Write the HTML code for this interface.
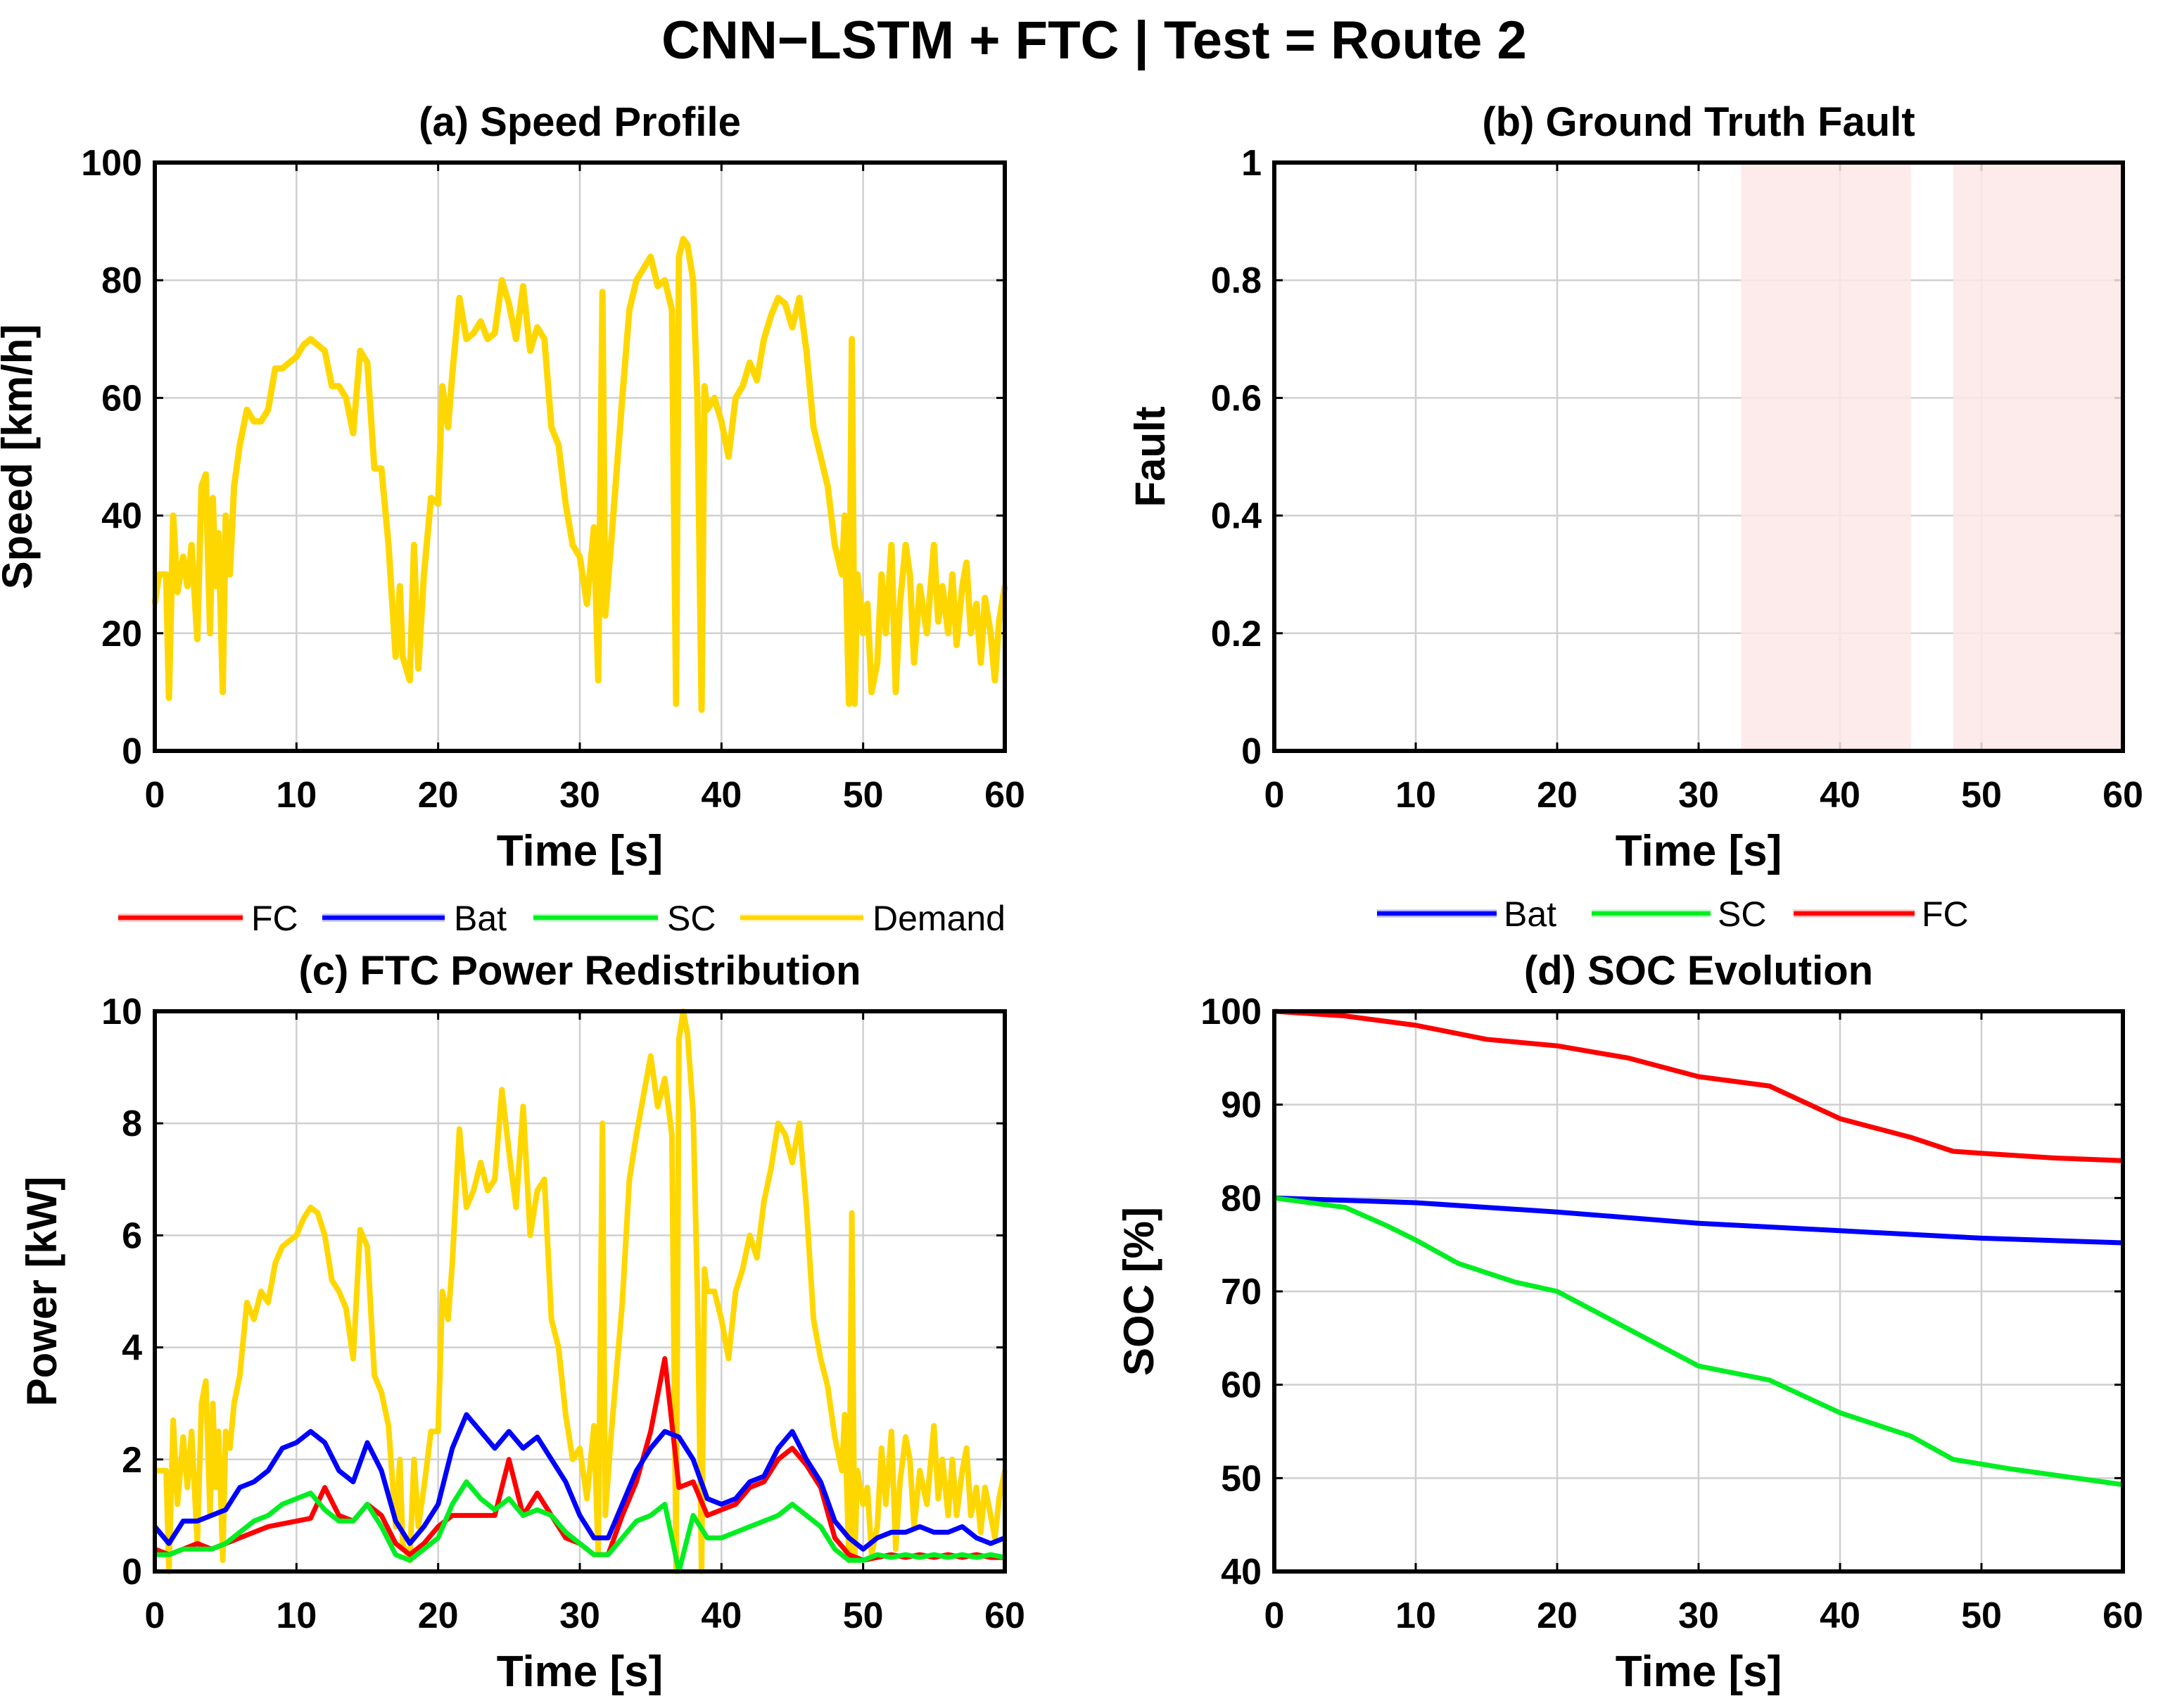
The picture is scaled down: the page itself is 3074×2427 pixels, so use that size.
<!DOCTYPE html>
<html><head><meta charset="utf-8">
<style>
html,body{margin:0;padding:0;background:#fff;}
svg{display:block;font-family:"Liberation Sans",Arial,sans-serif;font-weight:bold;}
</style></head>
<body>
<svg id="fig" width="3074" height="2427" viewBox="0 0 3074 2427" xmlns="http://www.w3.org/2000/svg">
<rect width="3074" height="2427" fill="#fff"/>
<text x="1555" y="83" font-size="76" text-anchor="middle">CNN−LSTM + FTC | Test = Route 2</text>
</svg>
<script>
// ---- data ----
const speedT=[0,0.3,0.8,1.0,1.3,1.6,2,2.3,2.6,3,3.3,3.6,3.9,4.1,4.3,4.5,4.8,5,5.3,5.6,6,6.5,7,7.5,8,8.5,9,10,10.5,11,11.5,12,12.5,13,13.5,14,14.5,15,15.5,16,16.5,17,17.3,17.5,18,18.3,18.6,19,19.5,20,20.3,20.7,21,21.5,22,22.5,23,23.5,24,24.5,25,25.5,26,26.5,27,27.5,28,28.5,29,29.5,30,30.5,31,31.3,31.6,31.8,32.2,33,33.5,34,34.5,35,35.5,36,36.5,36.8,37,37.3,37.6,38,38.3,38.6,38.8,39,39.5,40,40.5,41,41.5,42,42.5,43,43.5,44,44.5,45,45.5,46,46.5,47,47.5,48,48.5,48.7,49,49.2,49.4,49.6,50,50.3,50.6,51,51.3,51.6,52,52.3,52.6,53,53.3,53.6,54,54.5,55,55.3,55.6,56,56.3,56.6,57,57.3,57.6,58,58.3,58.6,59,59.3,59.6,60];
const speedV=[25,30,30,9,40,27,33,28,35,19,45,47,20,43,28,37,10,40,30,45,52,58,56,56,58,65,65,67,69,70,69,68,62,62,60,54,68,66,48,48,35,16,28,16,12,35,14,30,43,42,62,55,64,77,70,71,73,70,71,80,76,70,79,68,72,70,55,52,42,35,33,25,38,12,78,23,35,60,75,80,82,84,79,80,75,8,84,87,86,80,60,7,62,58,60,56,50,60,62,66,63,70,74,77,76,72,77,68,55,50,45,35,30,40,8,70,8,30,20,25,10,15,30,20,35,10,25,35,30,15,28,20,35,22,28,20,30,18,28,32,20,25,15,26,20,12,22,28];
const demandV=[1.8,1.8,1.8,0,2.7,1.2,2.4,1.5,2.5,0.5,3.0,3.4,1.0,3.0,1.5,2.5,0.2,2.5,2.2,3.0,3.5,4.8,4.5,5.0,4.8,5.5,5.8,6.0,6.3,6.5,6.4,6.0,5.2,5.0,4.7,3.8,6.1,5.8,3.5,3.2,2.6,0.8,2.0,0.5,0.2,2.0,0.8,1.5,2.5,2.5,5.0,4.5,5.5,7.9,6.5,6.8,7.3,6.8,7.0,8.6,7.5,6.5,8.3,6.0,6.8,7.0,4.5,4.0,2.8,2.0,2.2,1.3,2.6,0.3,8.0,1.0,2.4,4.8,7.0,7.8,8.5,9.2,8.3,8.8,7.8,0,9.5,10,9.6,8.2,5.0,0,5.4,5.0,5.0,4.5,3.8,5.0,5.4,6.0,5.6,6.6,7.2,8.0,7.8,7.3,8.0,6.5,4.5,3.8,3.3,2.4,1.8,2.8,0.2,6.4,0.2,1.8,1.2,1.5,0.3,0.8,2.2,1.2,2.5,0.4,1.6,2.4,2.0,0.8,1.8,1.2,2.6,1.3,2.0,1.0,2.0,1.0,1.8,2.2,1.0,1.5,0.7,1.5,1.0,0.6,1.3,1.8];
const secT=[0,1,2,3,4,5,6,7,8,9,10,11,12,13,14,15,16,17,18,19,20,21,22,23,24,25,26,27,28,29,30,31,32,33,34,35,36,37,38,39,40,41,42,43,44,45,46,47,48,49,50,51,52,53,54,55,56,57,58,59,60];
const batV=[0.8,0.5,0.9,0.9,1.0,1.1,1.5,1.6,1.8,2.2,2.3,2.5,2.3,1.8,1.6,2.3,1.8,0.9,0.5,0.8,1.2,2.2,2.8,2.5,2.2,2.5,2.2,2.4,2.0,1.6,1.0,0.6,0.6,1.2,1.8,2.2,2.5,2.4,2.0,1.3,1.2,1.3,1.6,1.7,2.2,2.5,2.0,1.6,0.9,0.6,0.4,0.6,0.7,0.7,0.8,0.7,0.7,0.8,0.6,0.5,0.6];
const fcV=[0.4,0.3,0.4,0.5,0.4,0.5,0.6,0.7,0.8,0.85,0.9,0.95,1.5,1.0,0.9,1.2,1.0,0.5,0.3,0.5,0.8,1.0,1.0,1.0,1.0,2.0,1.0,1.4,1.0,0.6,0.5,0.3,0.3,1.0,1.6,2.5,3.8,1.5,1.6,1.0,1.1,1.2,1.5,1.6,2.0,2.2,1.9,1.5,0.6,0.3,0.2,0.25,0.3,0.25,0.3,0.25,0.3,0.25,0.3,0.25,0.25];
const scV=[0.3,0.3,0.4,0.4,0.4,0.5,0.7,0.9,1.0,1.2,1.3,1.4,1.1,0.9,0.9,1.2,0.8,0.3,0.2,0.4,0.6,1.2,1.6,1.3,1.1,1.3,1.0,1.1,1.0,0.7,0.5,0.3,0.3,0.6,0.9,1.0,1.2,0,1.0,0.6,0.6,0.7,0.8,0.9,1.0,1.2,1.0,0.8,0.4,0.2,0.2,0.3,0.25,0.3,0.25,0.3,0.25,0.3,0.25,0.3,0.25];
const faultStart=[33,48];
const faultEnd=[45,60];
const socFcT=[0,5,10,15,20,25,30,35,40,45,48,50,55,60];
const socFcV=[100,99.5,98.5,97,96.3,95,93,92,88.5,86.5,85,84.8,84.3,84];
const socBatT=[0,10,20,30,40,50,60];
const socBatV=[80,79.5,78.5,77.3,76.5,75.7,75.2];
const socScT=[0,5,8,10,13,17,20,25,30,35,40,45,48,52,60];
const socScV=[80,79,77,75.5,73,71,70,66,62,60.5,57,54.5,52,51,49.3];
const xTicks=[0,10,20,30,40,50,60];
const yTicksA=[0,20,40,60,80,100];
const yTicksB=[0,0.2,0.4,0.6,0.8,1];
const yTicksC=[0,2,4,6,8,10];
const yTicksD=[40,50,60,70,80,90,100];

const NS="http://www.w3.org/2000/svg";
const svg=document.getElementById('fig');
function el(tag,attrs,parent){const e=document.createElementNS(NS,tag);for(const k in attrs)e.setAttribute(k,attrs[k]);(parent||svg).appendChild(e);return e;}

function panel(id,L,T,R,B,ymin,ymax,yTicks,title,ylabel,ylabX){
  const g=el('g',{});
  
  
  const sx=t=>L+(t-0)/60*(R-L);
  const sy=v=>B-(v-ymin)/(ymax-ymin)*(B-T);
  const grid=el('g',{},g);
  
  
  xTicks.forEach(t=>{
    const x=sx(t);
    const l=el('line',{x1:x,x2:x,y1:T,y2:B,stroke:'#d0d0d0','stroke-width':2.5},grid);
    
    
    el('line',{x1:x,x2:x,y1:B,y2:B-12,stroke:'#000','stroke-width':3},g);
    el('line',{x1:x,x2:x,y1:T,y2:T+12,stroke:'#000','stroke-width':3},g);
    const tx=el('text',{x:x,y:B+80,'font-size':52,'text-anchor':'middle'},g);
    tx.textContent=t;
    
    
  });
  yTicks.forEach(v=>{
    const y=sy(v);
    const l=el('line',{x1:L,x2:R,y1:y,y2:y,stroke:'#d0d0d0','stroke-width':2.5},grid);
    
    
    el('line',{x1:L,x2:L+12,y1:y,y2:y,stroke:'#000','stroke-width':3},g);
    el('line',{x1:R,x2:R-12,y1:y,y2:y,stroke:'#000','stroke-width':3},g);
    const tx=el('text',{x:L-18,y:y+18,'font-size':52,'text-anchor':'end'},g);
    tx.textContent=v;
    
    
  });
  const tt=el('text',{x:(L+R)/2,y:T-38,'font-size':58,'text-anchor':'middle'},g);
  tt.textContent=title;
  
  
  const xl=el('text',{x:(L+R)/2,y:B+163,'font-size':62,'text-anchor':'middle'},g);
  xl.textContent='Time [s]';
  
  
  const yl=el('text',{x:0,y:0,'font-size':60,'text-anchor':'middle',transform:`translate(${ylabX},${(T+B)/2}) rotate(-90)`},g);
  yl.textContent=ylabel;
  
  
  return {g,sx,sy,frame:()=>{const f=el('rect',{x:L,y:T,width:R-L,height:B-T,fill:'none',stroke:'#000','stroke-width':6},g);}};
}
function line(p,ts,vs,color,w,name){
  const d=ts.map((t,i)=>(i?'L':'M')+p.sx(t).toFixed(1)+','+p.sy(vs[i]).toFixed(1)).join('');
  const path=el('path',{d:d,fill:'none',stroke:color,'stroke-width':w,'stroke-linejoin':'round'},p.g);
  
  
}
function legend(items,y){
  items.forEach(it=>{
    const g=el('g',{});
    
    
    el('line',{x1:it[2],x2:it[3],y1:y,y2:y,stroke:it[1],'stroke-width':11,'stroke-opacity':0.3},g);
    el('line',{x1:it[2],x2:it[3],y1:y,y2:y,stroke:it[1],'stroke-width':6},g);
    const t=el('text',{x:it[4],y:y+18,'font-size':50,'font-weight':'normal'},g);
    t.textContent=it[0];
  });
}
const RED='#ff0000',BLUE='#0000ff',GREEN='#00ee22',YEL='#ffd700';

// (a)
const pa=panel('speed-profile',220,231,1428,1067,0,100,yTicksA,'(a) Speed Profile','Speed [km/h]',45);
line(pa,speedT,speedV,YEL,9,'speed-line');
pa.frame();
// (b)
const pb=panel('ground-truth-fault',1811,231,3017,1067,0,1,yTicksB,'(b) Ground Truth Fault','Fault',1655);
faultStart.forEach((s,i)=>{
  const r=el('rect',{x:pb.sx(s),y:231,width:pb.sx(faultEnd[i])-pb.sx(s),height:1067-231,fill:'#fde6e6','fill-opacity':0.85},pb.g);
  
  
});
pb.frame();
// (c)
const pc=panel('ftc-power',220,1437,1428,2233,0,10,yTicksC,'(c) FTC Power Redistribution','Power [kW]',80);
line(pc,speedT,demandV,YEL,8,'demand-line');
line(pc,secT,fcV,RED,7,'fc-power-line');
line(pc,secT,batV,BLUE,7,'bat-power-line');
line(pc,secT,scV,GREEN,7,'sc-power-line');
pc.frame();
legend([['FC',RED,168,345,357],['Bat',BLUE,458,632,645],['SC',GREEN,758,935,948],['Demand',YEL,1052,1227,1240]],1304);
// (d)
const pd=panel('soc-evolution',1811,1437,3017,2233,40,100,yTicksD,'(d) SOC Evolution','SOC [%]',1639);
line(pd,socFcT,socFcV,RED,7,'fc-soc-line');
line(pd,socBatT,socBatV,BLUE,7,'bat-soc-line');
line(pd,socScT,socScV,GREEN,7,'sc-soc-line');
pd.frame();
legend([['Bat',BLUE,1957,2127,2137],['SC',GREEN,2262,2431,2441],['FC',RED,2549,2721,2731]],1298);
</script>
</body></html>
